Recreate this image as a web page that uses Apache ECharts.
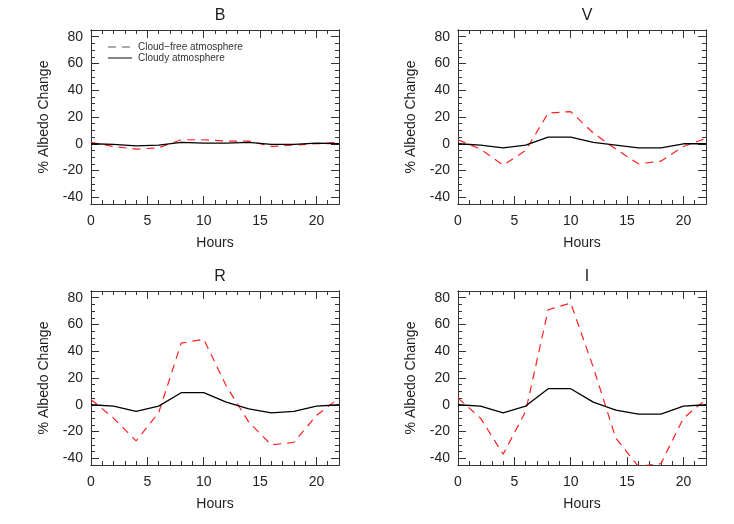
<!DOCTYPE html>
<html><head><meta charset="utf-8">
<script src="https://cdn.jsdelivr.net/npm/echarts@6/dist/echarts.min.js"></script>
<style>html,body{margin:0;padding:0;background:#fff}#c{width:734px;height:524px}</style>
</head><body><div id="c"></div>
<script>
const hours = [0,2,4,6,8,10,12,14,16,18,20,22];
const panelNames = ['B','V','R','I'];
const legendNames = ['Cloud\u2212free atmosphere','Cloudy atmosphere'];
const clearB = [1,-2,-4,-3,3,3,2,2,-2,-1,0,1];
const cloudyB = [0,-0.5,-1.5,-1,1,0.5,0.5,1,-0.5,-0.5,0.5,0];
const clearV = [3,-4,-16,-5,23,24,8,-4,-15,-13,-2,4];
const cloudyV = [0,-1,-3,-1,5,5,1,-1,-3,-3,0,0];
const clearR = [4,-10,-27,-6,46,49,14,-13,-30,-28,-8,5];
const cloudyR = [0,-1,-5,-1,9,9,2,-3,-6,-5,-1,0];
const clearI = [5,-10,-37,-5,71,76,28,-25,-46,-44,-10,4];
const cloudyI = [0,-1,-6,-1,12,12,2,-4,-7,-7,-1,0];
const xMajor = [0,5,10,15,20];
const yMajor = [-40,-20,0,20,40,60,80];
const clearAll = [clearB,clearV,clearR,clearI];
const cloudyAll = [cloudyB,cloudyV,cloudyR,cloudyI];

const grids = [
  {left:91, top:30, width:248, height:174},
  {left:458, top:30, width:248, height:174},
  {left:91, top:291, width:248, height:174},
  {left:458, top:291, width:248, height:174}
];
const font = 'Liberation Sans';
const txt = '#222';
const range = (a,b,s)=>{const r=[];for(let v=a;v<=b+1e-9;v+=s)r.push(v);return r;};
const xMinor = range(0,22,1), yMinor = range(-45,85,5);
const xAxis=[], yAxis=[], series=[], title=[];
grids.forEach((g,i)=>{
  const base = {min:0,max:22,gridIndex:i,type:'value',splitLine:{show:false},
    axisLine:{show:true,onZero:false,lineStyle:{color:'#333',width:1}}};
  const mk = (pos,vals,len,labels)=>Object.assign({},base,{position:pos,
    axisTick:{show:true,inside:true,length:len,customValues:vals,lineStyle:{color:'#333'}},
    axisLabel:{show:labels,customValues:xMajor,fontFamily:font,fontSize:14,color:txt,margin:10}});
  const xm = mk('bottom',xMajor,8,true);
  xm.name='Hours'; xm.nameLocation='middle'; xm.nameGap=32;
  xm.nameTextStyle={fontFamily:font,fontSize:14,color:txt};
  xAxis.push(xm, mk('bottom',xMinor,4,false), mk('top',xMajor,8,false), mk('top',xMinor,4,false));
  const ybase = {min:-45,max:85,gridIndex:i,type:'value',splitLine:{show:false},
    axisLine:{show:true,onZero:false,lineStyle:{color:'#333',width:1}}};
  const mky = (pos,vals,len,labels)=>Object.assign({},ybase,{position:pos,
    axisTick:{show:true,inside:true,length:len,customValues:vals,lineStyle:{color:'#333'}},
    axisLabel:{show:labels,customValues:yMajor,fontFamily:font,fontSize:14,color:txt,margin:8}});
  const ym = mky('left',yMajor,8,true);
  ym.name='% Albedo Change'; ym.nameLocation='middle'; ym.nameGap=40;
  ym.nameTextStyle={fontFamily:font,fontSize:14,color:txt};
  yAxis.push(ym, mky('left',yMinor,4,false), mky('right',yMajor,8,false), mky('right',yMinor,4,false));
  title.push({text:panelNames[i],left:g.left+g.width/2,top:g.top-27,textAlign:'center',
    textStyle:{fontFamily:font,fontSize:16,fontWeight:'normal',color:txt}});
  series.push({type:'line',xAxisIndex:i*4,yAxisIndex:i*4,
    data:hours.map((h,k)=>[h,clearAll[i][k]]),showSymbol:false,symbol:'none',
    lineStyle:{color:'#ff2020',width:1.2,type:[8,6]},itemStyle:{color:'#ff2020'},clip:true,silent:true});
  series.push({type:'line',xAxisIndex:i*4,yAxisIndex:i*4,
    data:hours.map((h,k)=>[h,cloudyAll[i][k]]),showSymbol:false,symbol:'none',
    lineStyle:{color:'#000',width:1.3},itemStyle:{color:'#000'},clip:true,silent:true,z:3});
});
const graphic = [
  {type:'line',shape:{x1:108,y1:47,x2:132,y2:47},style:{stroke:'#555',lineWidth:1,lineDash:[8,6]}},
  {type:'line',shape:{x1:108,y1:58,x2:132,y2:58},style:{stroke:'#333',lineWidth:1.2}},
  {type:'text',x:138,y:47,style:{text:legendNames[0],font:'10px Liberation Sans',fill:'#333',verticalAlign:'middle'}},
  {type:'text',x:138,y:58,style:{text:legendNames[1],font:'10px Liberation Sans',fill:'#333',verticalAlign:'middle'}}
];
const chart = echarts.init(document.getElementById('c'));
chart.setOption({animation:false, backgroundColor:'#fff', title, grid:grids, xAxis, yAxis, series, graphic});
</script></body></html>
